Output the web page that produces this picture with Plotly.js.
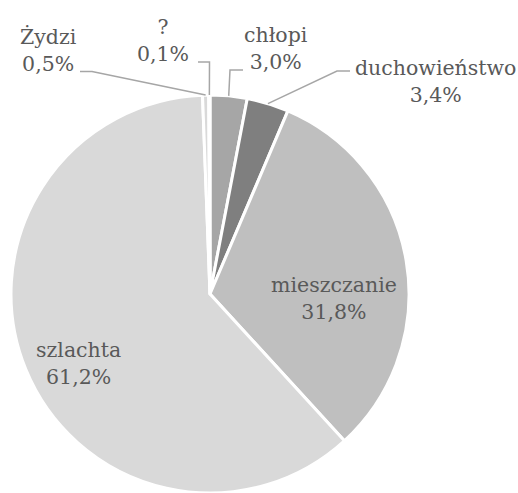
<!DOCTYPE html>
<html>
<head>
<meta charset="utf-8">
<script src="https://cdn.plot.ly/plotly-3.0.1.min.js"></script>
<style>html,body{margin:0;padding:0;background:#fff;}#chart{width:518px;height:493px;}</style>
</head>
<body>
<div id="chart"></div>
<script>
// Data
var categories = ["chłopi", "duchowieństwo", "mieszczanie", "szlachta", "Żydzi", "?"];
var values = [3.0, 3.4, 31.8, 61.2, 0.5, 0.1];
var valueLabels = ["3,0%", "3,4%", "31,8%", "61,2%", "0,5%", "0,1%"];
var colors = ["#a6a6a6", "#7f7f7f", "#bfbfbf", "#d9d9d9", "#d9d9d9", "#c8c8c8"];

// Layout constants (pixels)
var W = 518, H = 493;
var cx = 210, cy = 294, r = 199;
var labelPos = [[276, 49], [435, 81.5], [334, 298.5], [78, 363.5], [48, 50.5], [163, 40.5]];
var leaders = {
  0: [[243, 70], [230, 70]],
  1: [[350, 71], [337, 71]],
  4: [[80, 71.5], [92, 71.5]],
  5: [[198, 62], [209.5, 62]]
};
var FONT = "DejaVu Serif", FSIZE = 20.5;

function px(x) { return x / W; }
function py(y) { return 1 - y / H; }

var total = values.reduce(function (a, b) { return a + b; }, 0);
var cum = 0;
var annotations = [];
var shapes = [];
for (var i = 0; i < values.length; i++) {
  var mid = (cum + values[i] / 2) / total;
  cum += values[i];
  var ang = mid * 2 * Math.PI;
  var ex = cx + r * Math.sin(ang), ey = cy - r * Math.cos(ang);
  annotations.push({
    xref: "paper", yref: "paper",
    x: px(labelPos[i][0]), y: py(labelPos[i][1]),
    xanchor: "center", yanchor: "middle",
    text: categories[i] + "<br>" + valueLabels[i],
    showarrow: false,
    font: {family: FONT, size: FSIZE, color: "#595959"}
  });
  if (leaders[i]) {
    var p = leaders[i];
    shapes.push({
      type: "path", xref: "paper", yref: "paper",
      path: "M " + px(p[0][0]) + "," + py(p[0][1]) + " L " + px(p[1][0]) + "," + py(p[1][1]) + " L " + px(ex) + "," + py(ey),
      line: {color: "#a6a6a6", width: 1.5}
    });
  }
}

var trace = {
  type: "pie",
  labels: categories,
  values: values,
  sort: false,
  direction: "clockwise",
  rotation: 0,
  textinfo: "none",
  hoverinfo: "label+percent",
  marker: {colors: colors, line: {color: "#ffffff", width: 3}},
  domain: {x: [px(cx - r), px(cx + r)], y: [py(cy + r) < 0 ? 0 : py(cy + r), py(cy - r)]},
  showlegend: false
};

var layout = {
  width: W, height: H,
  margin: {l: 0, r: 0, t: 0, b: 0},
  paper_bgcolor: "#ffffff",
  plot_bgcolor: "#ffffff",
  font: {family: FONT, color: "#595959"},
  showlegend: false,
  annotations: annotations,
  shapes: shapes
};

Plotly.newPlot("chart", [trace], layout, {displayModeBar: false, staticPlot: true});
</script>
</body>
</html>
